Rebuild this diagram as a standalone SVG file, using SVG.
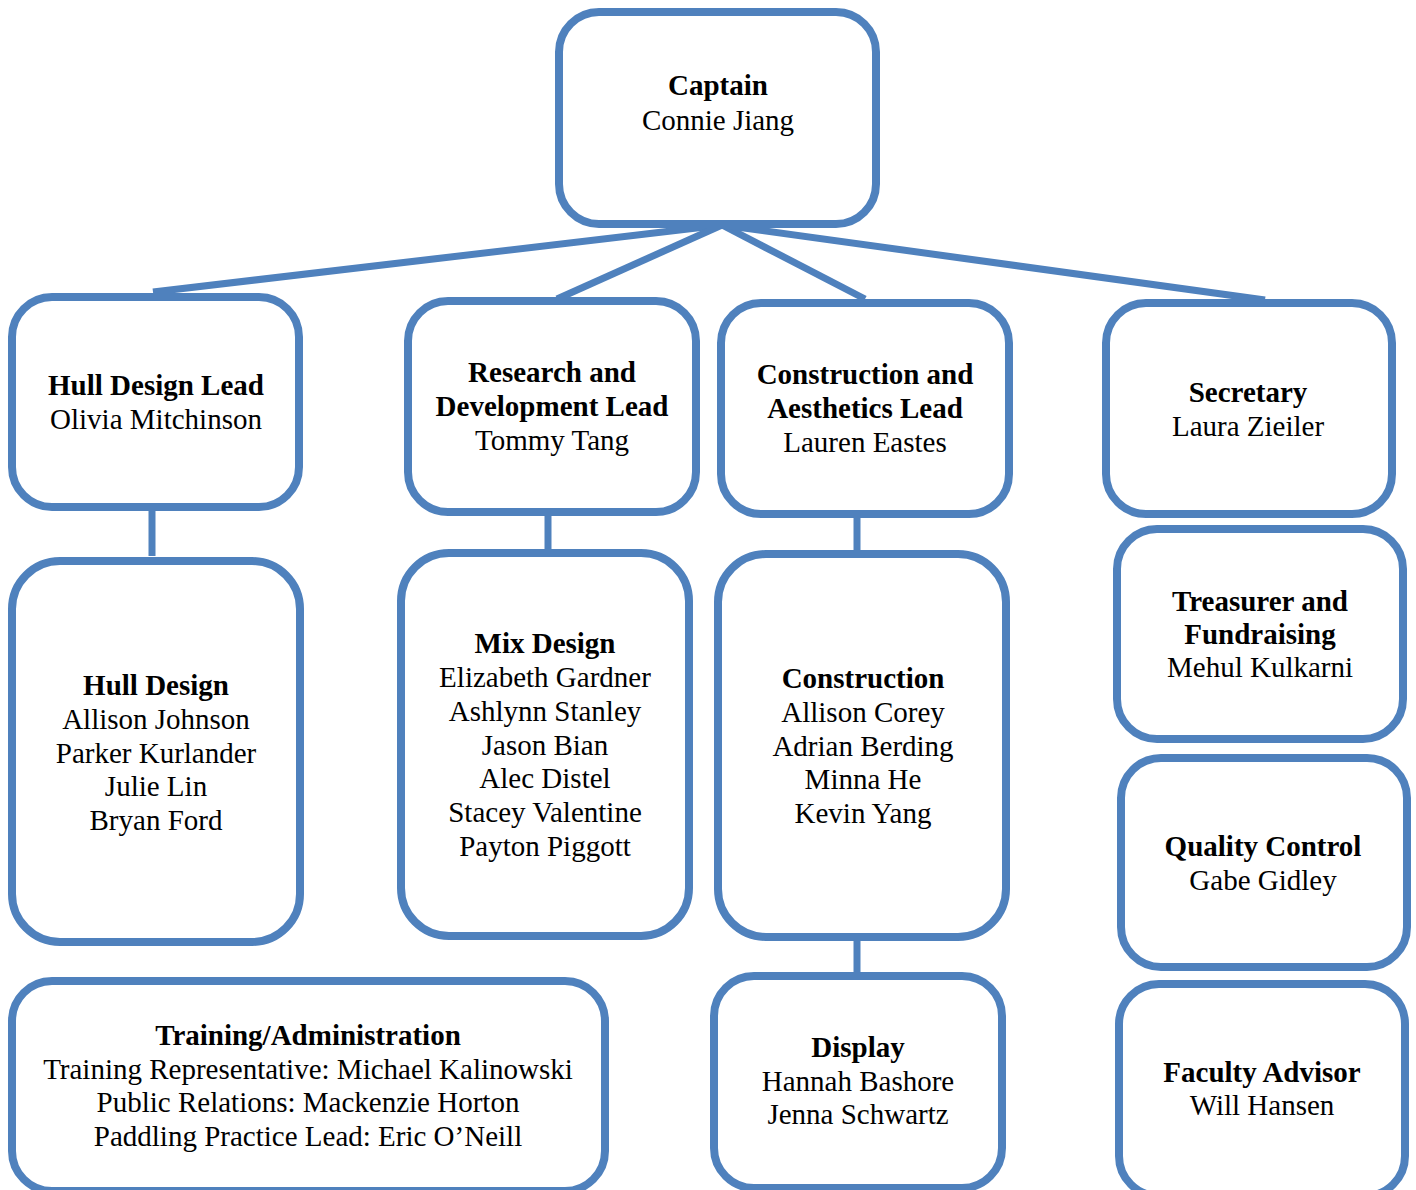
<svg xmlns="http://www.w3.org/2000/svg" width="1416" height="1190" viewBox="0 0 1416 1190">
<style>
.box{fill:#fff;stroke:#4F81BD;stroke-width:8}
.con{stroke:#4F81BD;stroke-width:7;fill:none}
text{font-family:"Liberation Serif","Times New Roman",serif;font-size:29px;fill:#000;text-anchor:middle}
.b{font-weight:bold}
</style>
<rect width="1416" height="1190" fill="#fff"/>
<g id="connectors">
<line class="con" x1="722" y1="225" x2="153" y2="292"/>
<line class="con" x1="722" y1="225" x2="557" y2="299"/>
<line class="con" x1="722" y1="225" x2="865" y2="299"/>
<line class="con" x1="722" y1="225" x2="1265" y2="300"/>
<line class="con" x1="152" y1="507" x2="152" y2="556"/>
<line class="con" x1="548" y1="512" x2="548" y2="551"/>
<line class="con" x1="857" y1="514" x2="857" y2="553"/>
<line class="con" x1="857" y1="937" x2="857" y2="976"/>
</g>
<g id="captain">
<rect class="box" x="559" y="12" width="317" height="212" rx="40"/>
<text x="718" y="95" class="b">Captain</text>
<text x="718" y="130">Connie Jiang</text>
</g>
<g id="hull-lead">
<rect class="box" x="12" y="297" width="287" height="210" rx="40"/>
<text x="156" y="395" class="b">Hull Design Lead</text>
<text x="156" y="429">Olivia Mitchinson</text>
</g>
<g id="rd-lead">
<rect class="box" x="408" y="301" width="288" height="211" rx="40"/>
<text x="552" y="382" class="b">Research and</text>
<text x="552" y="416" class="b">Development Lead</text>
<text x="552" y="450">Tommy Tang</text>
</g>
<g id="construction-lead">
<rect class="box" x="721" y="303" width="288" height="211" rx="40"/>
<text x="865" y="384" class="b">Construction and</text>
<text x="865" y="418" class="b">Aesthetics Lead</text>
<text x="865" y="452">Lauren Eastes</text>
</g>
<g id="secretary">
<rect class="box" x="1106" y="303" width="286" height="211" rx="40"/>
<text x="1248" y="402" class="b">Secretary</text>
<text x="1248" y="436">Laura Zieiler</text>
</g>
<g id="treasurer">
<rect class="box" x="1117" y="529" width="286" height="210" rx="40"/>
<text x="1260" y="611" class="b">Treasurer and</text>
<text x="1260" y="644" class="b">Fundraising</text>
<text x="1260" y="677">Mehul Kulkarni</text>
</g>
<g id="quality-control">
<rect class="box" x="1121" y="758" width="286" height="209" rx="40"/>
<text x="1263" y="856" class="b">Quality Control</text>
<text x="1263" y="890">Gabe Gidley</text>
</g>
<g id="faculty-advisor">
<rect class="box" x="1119" y="984" width="286" height="212" rx="40"/>
<text x="1262" y="1082" class="b">Faculty Advisor</text>
<text x="1262" y="1115">Will Hansen</text>
</g>
<g id="hull-design">
<rect class="box" x="12" y="561" width="288" height="381" rx="48"/>
<text x="156" y="695" class="b">Hull Design</text>
<text x="156" y="729">Allison Johnson</text>
<text x="156" y="763">Parker Kurlander</text>
<text x="156" y="796">Julie Lin</text>
<text x="156" y="830">Bryan Ford</text>
</g>
<g id="mix-design">
<rect class="box" x="401" y="553" width="288" height="383" rx="48"/>
<text x="545" y="653" class="b">Mix Design</text>
<text x="545" y="687">Elizabeth Gardner</text>
<text x="545" y="721">Ashlynn Stanley</text>
<text x="545" y="755">Jason Bian</text>
<text x="545" y="788">Alec Distel</text>
<text x="545" y="822">Stacey Valentine</text>
<text x="545" y="856">Payton Piggott</text>
</g>
<g id="construction">
<rect class="box" x="718" y="554" width="288" height="383" rx="48"/>
<text x="863" y="688" class="b">Construction</text>
<text x="863" y="722">Allison Corey</text>
<text x="863" y="756">Adrian Berding</text>
<text x="863" y="789">Minna He</text>
<text x="863" y="823">Kevin Yang</text>
</g>
<g id="display">
<rect class="box" x="714" y="976" width="288" height="212" rx="40"/>
<text x="858" y="1057" class="b">Display</text>
<text x="858" y="1091">Hannah Bashore</text>
<text x="858" y="1124">Jenna Schwartz</text>
</g>
<g id="training">
<rect class="box" x="12" y="981" width="593" height="210" rx="40"/>
<text x="308" y="1045" class="b">Training/Administration</text>
<text x="308" y="1079">Training Representative: Michael Kalinowski</text>
<text x="308" y="1112">Public Relations: Mackenzie Horton</text>
<text x="308" y="1146">Paddling Practice Lead: Eric O’Neill</text>
</g>
</svg>
